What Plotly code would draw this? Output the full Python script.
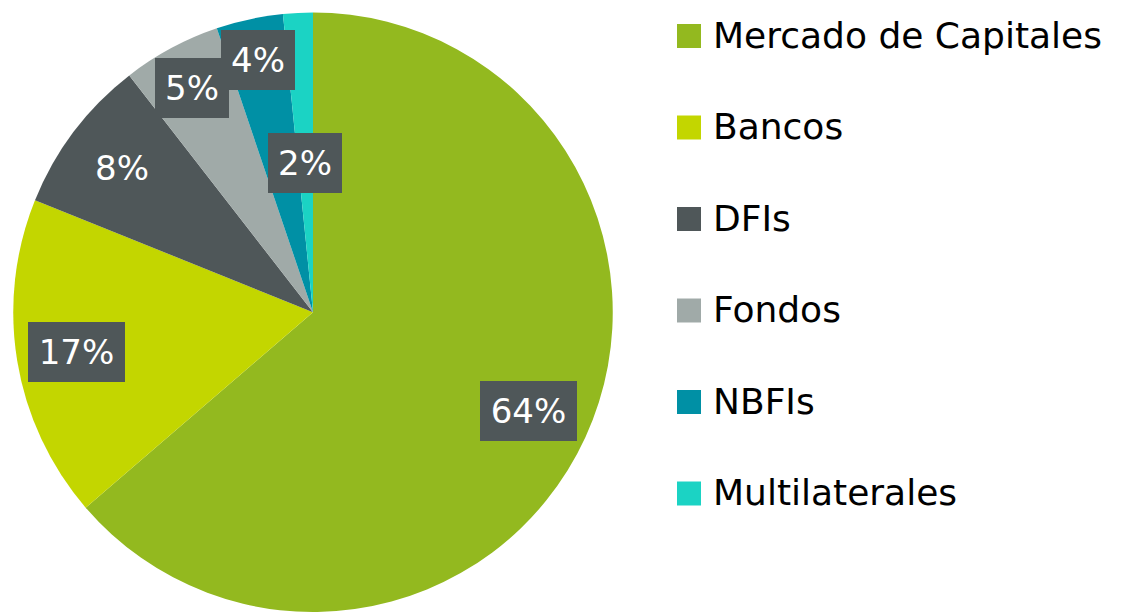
import math
import plotly.graph_objects as go

# ---- data ----
categories = ["Mercado de Capitales", "Bancos", "DFIs", "Fondos", "NBFIs", "Multilaterales"]
shares = [63.7, 17.4, 8.4, 5.3, 3.6, 1.6]

# ---- styles ----
colors = ["#93B91F", "#C3D600", "#4F5759", "#A0AAA8", "#0090A5", "#1BD3C4"]
label_box = "#4F5759"
label_r = [0.79, 0.80, 0.80, 0.85, 0.86, 0.50]   # radial position of value labels (fraction of radius)
W, H = 1121, 612
CX, CY, R = 313, 312.5, 300   # pie centre / radius in pixels (from top-left)
FONT = "DejaVu Sans"

fig = go.Figure()
fig.add_trace(go.Pie(
    labels=categories,
    values=shares,
    sort=False,
    direction="clockwise",
    rotation=0,
    marker=dict(colors=colors, line=dict(width=0)),
    textinfo="none",
    hoverinfo="label+percent",
    showlegend=False,
    domain=dict(x=[(CX - R) / W, (CX + R) / W], y=[0, (H - (CY - R)) / H]),
))

annotations = []
shapes = []
total = sum(shares)
cum = 0.0
for i, (cat, v) in enumerate(zip(categories, shares)):
    mid = (cum + v / 2) / total * 2 * math.pi
    cum += v
    px = CX + label_r[i] * R * math.sin(mid)
    py = CY - label_r[i] * R * math.cos(mid)
    txt = f"{v / total * 100:.0f}%"
    annotations.append(dict(
        x=px / W, y=1 - py / H, xref="paper", yref="paper",
        text=txt, showarrow=False,
        font=dict(family=FONT, size=34, color="white"),
        bgcolor=label_box, borderpad=0, borderwidth=0,
        width=97 if len(txt) == 3 else 74, height=60,
        xanchor="center", yanchor="middle",
    ))
    # manual legend
    ly = 36 + i * 91.5
    shapes.append(dict(
        type="rect", xref="paper", yref="paper",
        x0=677 / W, x1=701 / W, y0=1 - (ly - 12) / H, y1=1 - (ly + 12) / H,
        fillcolor=colors[i], line=dict(width=0),
    ))
    annotations.append(dict(
        x=711 / W, y=1 - (ly - 1) / H, xref="paper", yref="paper",
        text=cat, showarrow=False,
        font=dict(family=FONT, size=36, color="black"),
        xanchor="left", yanchor="middle",
    ))

fig.update_layout(
    width=W, height=H,
    margin=dict(l=0, r=0, t=0, b=0),
    paper_bgcolor="white",
    plot_bgcolor="white",
    annotations=annotations,
    shapes=shapes,
)

fig.write_html("out.html", config={"displayModeBar": False},
               post_script="document.body.style.margin='0';")
